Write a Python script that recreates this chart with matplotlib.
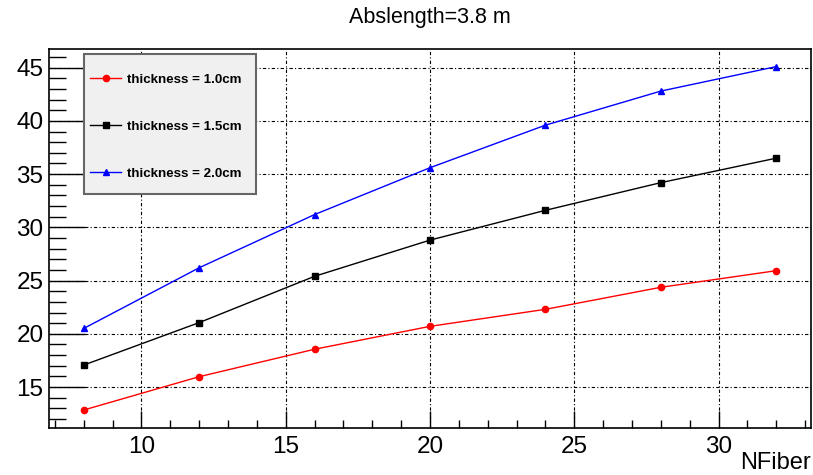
import numpy as np
import matplotlib
matplotlib.use('Agg')
import matplotlib.pyplot as plt
from matplotlib.ticker import MultipleLocator
from matplotlib.patches import Rectangle

plt.rcParams['font.family'] = ['Liberation Sans', 'DejaVu Sans']

### Data
nFiber = [8, 12, 16, 20, 24, 28, 32]
thick10 = [12.84, 15.97, 18.55, 20.7, 22.3, 24.37, 25.93]
thick15 = [17.06, 21.05, 25.4, 28.8, 31.6, 34.2, 36.5]
thick20 = [20.5, 26.2, 31.2, 35.6, 39.6, 42.8, 45.1]
labels = ['thickness = 1.0cm', 'thickness = 1.5cm', 'thickness = 2.0cm']

fig = plt.figure(figsize=(8.13, 4.75), dpi=100)
ax = fig.add_axes([0.0603, 0.0989, 0.9372, 0.7979])

ax.plot(nFiber, thick10, color='red', marker='o', markersize=4.5, linewidth=1, label=labels[0])
ax.plot(nFiber, thick15, color='black', marker='s', markersize=4.5, linewidth=1, label=labels[1])
ax.plot(nFiber, thick20, color='blue', marker='^', markersize=4.5, linewidth=1, label=labels[2])

ax.set_xlim(6.8, 33.2)
ax.set_ylim(11.15, 46.75)
ax.xaxis.set_major_locator(MultipleLocator(5))
ax.xaxis.set_minor_locator(MultipleLocator(1))
ax.yaxis.set_major_locator(MultipleLocator(5))
ax.yaxis.set_minor_locator(MultipleLocator(1))
ax.tick_params(axis='both', which='both', direction='in', top=False, right=False, labelsize=17.5, colors='black')
ax.tick_params(axis='y', which='major', length=26, width=1, pad=4)
ax.tick_params(axis='y', which='minor', length=12, width=1)
ax.tick_params(axis='x', which='major', length=12, width=1, pad=6)
ax.tick_params(axis='x', which='minor', length=6, width=1)
ax.grid(True, which='major', color='black', linestyle=(0, (3, 2, 1, 2)), linewidth=0.8)
ax.set_axisbelow(True)
for sp in ax.spines.values():
    sp.set_linewidth(1.2)

ax.set_title('Abslength=3.8 m', fontsize=15.5, pad=19)
fig.text(0.9975, 0.013, 'NFiber', fontsize=17, ha='right', va='baseline')

# legend box drawn separately (ROOT TLegend look)
ax.add_patch(Rectangle((0.0459, 0.6174), 0.2258, 0.3694, transform=ax.transAxes,
                       facecolor='#f0f0f0', edgecolor='#666666', linewidth=1.5, zorder=4))
leg = ax.legend(loc='upper left', bbox_to_anchor=(0.0538, 0.936), fontsize=9.6, frameon=False,
                borderpad=0, labelspacing=2.6, handlelength=2.33,
                handletextpad=0.45, borderaxespad=0)
leg.set_zorder(5)
for t in leg.get_texts():
    t.set_fontweight('bold')

fig.savefig('out.png', dpi=100)
